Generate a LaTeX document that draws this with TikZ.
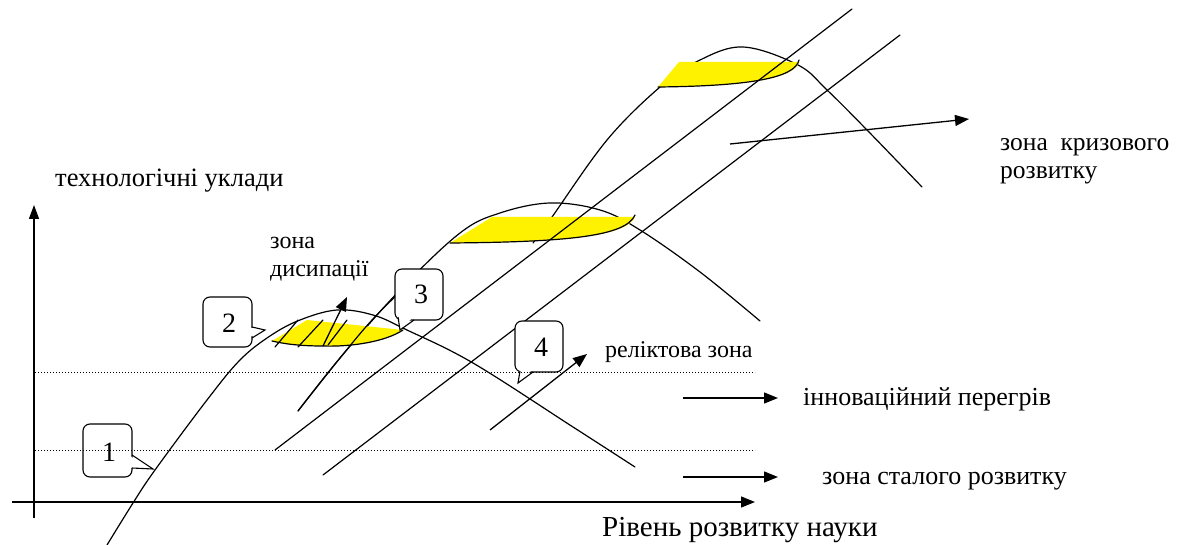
\documentclass[tikz,border=0pt]{standalone}
\usepackage{fontspec}
\setmainfont{Liberation Serif}
\usetikzlibrary{arrows.meta}
\begin{document}
\begin{tikzpicture}[x=1pt,y=-1pt,
  ln/.style={line width=1.2pt, line cap=round},
  arr/.style={line width=1.3pt, -{Triangle[length=14pt,width=11pt]}},
  varr/.style={line width=1.3pt, -{Triangle[length=14pt,width=10pt]}},
  dots/.style={line width=0.7pt, dash pattern=on 0.7pt off 2.3pt},
  zonefill/.style={fill=yellow},
  cbox/.style={line width=1.1pt, rounded corners=7pt, fill=white},
  cptr/.style={line width=1.1pt, line join=miter},
  cnum/.style={font=\fontsize{28}{30}\selectfont, inner sep=0pt},
  lbl/.style={inner sep=0pt, font=\fontsize{26}{28}\selectfont},
  tlbl/.style={inner sep=0pt, font=\fontsize{26.5}{28}\selectfont},
  slbl/.style={inner sep=0pt, font=\fontsize{24}{26}\selectfont},
  klbl/.style={inner sep=0pt, font=\fontsize{25.5}{27}\selectfont},
  blbl/.style={inner sep=0pt, font=\fontsize{29}{31}\selectfont},
]
\useasboundingbox (0,0) rectangle (1182,545);

% axes
\coordinate (xo) at (12,502);
\coordinate (xe) at (755,502);
\coordinate (yo) at (34,518);
\coordinate (ye) at (34,205);
\draw[arr] (xo) -- (xe);
\draw[varr] (yo) -- (ye);

% bell curves
\draw[ln] plot[smooth, tension=0.6] coordinates {(107,545) (133,503) (155,470) (207,400) (240,360) (270,336) (300,320) (337,310) (373,315) (407,330) (473,363) (573,427) (635,467)};
\draw[ln] plot[smooth, tension=0.6] coordinates {(298,411) (340,358) (400,290) (460,233) (500,213) (550,203) (600,210) (640,230) (700,272) (760,321)};
\draw[ln] plot[smooth, tension=0.6] coordinates {(533,243) (552,217) (607,140) (660,87) (698,61) (743,47) (798,65) (827,90) (867,130) (922,187)};

% yellow zones
\fill[zonefill] (272,341) -- (307,320) -- (403,330) .. controls (385,342) and (350,347) .. (323,346) .. controls (300,346) and (285,344) .. cycle;
\draw[ln] (403,330) .. controls (385,342) and (350,347) .. (323,346) .. controls (300,346) and (285,344) .. (272,341);
\fill[zonefill] (450,243) -- (492,217) -- (635,217) .. controls (626,236) and (570,242) .. cycle;
\draw[ln] (635,215) .. controls (626,236) and (570,242) .. (450,243);
\fill[zonefill] (658,87) -- (679,62) -- (799,62) .. controls (795,78) and (750,86) .. cycle;
\draw[ln] (799,60) .. controls (795,78) and (750,86) .. (658,87);

% second bell rise drawn over first zone
\draw[ln] plot[smooth, tension=0.6] coordinates {(298,411) (340,358) (372,320) (400,292)};

% hatching in dissipation zone
\draw[ln] (275,347) -- (298,320);
\draw[ln] (298,347) -- (323,320);
\draw[ln] (328,345) -- (347,320);
\coordinate (d0) at (323,346);
\coordinate (d1) at (347,297);
\draw[arr] (d0) -- (d1);

% straight lines
\coordinate (a0) at (275,450);
\coordinate (a1) at (852,9);
\coordinate (b0) at (323,475);
\coordinate (b1) at (900,35);
\draw[ln] (a0) -- (a1);
\draw[ln] (b0) -- (b1);

% labels
\node[tlbl, anchor=base west] (tech) at (55,187) {технологічні уклади};
\node[blbl, anchor=base west] (sci) at (602,536) {Рівень розвитку науки};
\node[slbl, anchor=base west] (dz1) at (270,248) {зона};
\node[slbl, anchor=base west] (dz2) at (270,276) {дисипації};
\node[slbl, anchor=base west] (rel) at (605,357) {реліктова зона};
\node[klbl, anchor=base west] (kr1) at (1000,151) {зона\ \ кризового};
\node[klbl, anchor=base west] (kr2) at (1000,179) {розвитку};
\node[lbl, anchor=base west] (inn) at (803,405) {інноваційний перегрів};
\node[lbl, anchor=base west] (st) at (822,484) {зона сталого розвитку};

% label arrows
\coordinate (r0) at (490,430);
\coordinate (r1) at (587,354);
\draw[arr] (r0) -- (r1);
\coordinate (k0) at (730,144);
\coordinate (k1) at (969,119);
\draw[arr] (k0) -- (k1);
\coordinate (i0) at (683,398);
\coordinate (i1) at (778,398);
\draw[arr] (i0) -- (i1);
\coordinate (s0) at (683,477);
\coordinate (s1) at (778,477);
\draw[arr] (s0) -- (s1);

% callouts
\draw[cbox] (83,424) rectangle (132,477);
\fill[white] (129,455.6) -- (153,469) -- (129,467.6) -- cycle;
\draw[cptr] (132,455) -- (153,469) -- (132,468);
\node[cnum] (c1) at (109,452) {1};

\draw[cbox] (203,297) rectangle (252,347);
\fill[white] (249,327.6) -- (265,330) -- (249,337.4) -- cycle;
\draw[cptr] (252,327) -- (265,330) -- (252,338);
\node[cnum] (c2) at (229,323) {2};

\draw[cbox] (395,269) rectangle (443,320);
\fill[white] (399,316) -- (414,316) -- (400,330) -- cycle;
\draw[cptr] (398,317) -- (400,330) -- (414,320);
\node[cnum] (c3) at (421,294) {3};

\draw[cbox] (515,321) rectangle (563,372);
\fill[white] (520,368) -- (534,368) -- (518,383) -- cycle;
\draw[cptr] (520,371) -- (518,383) -- (533,372);
\node[cnum] (c4) at (541,347) {4};

% dotted zone borders
\coordinate (u0) at (35,372);
\coordinate (u1) at (755,372);
\coordinate (l0) at (35,450);
\coordinate (l1) at (755,450);
\draw[dots] (u0) -- (u1);
\draw[dots] (l0) -- (l1);
\end{tikzpicture}
\end{document}
